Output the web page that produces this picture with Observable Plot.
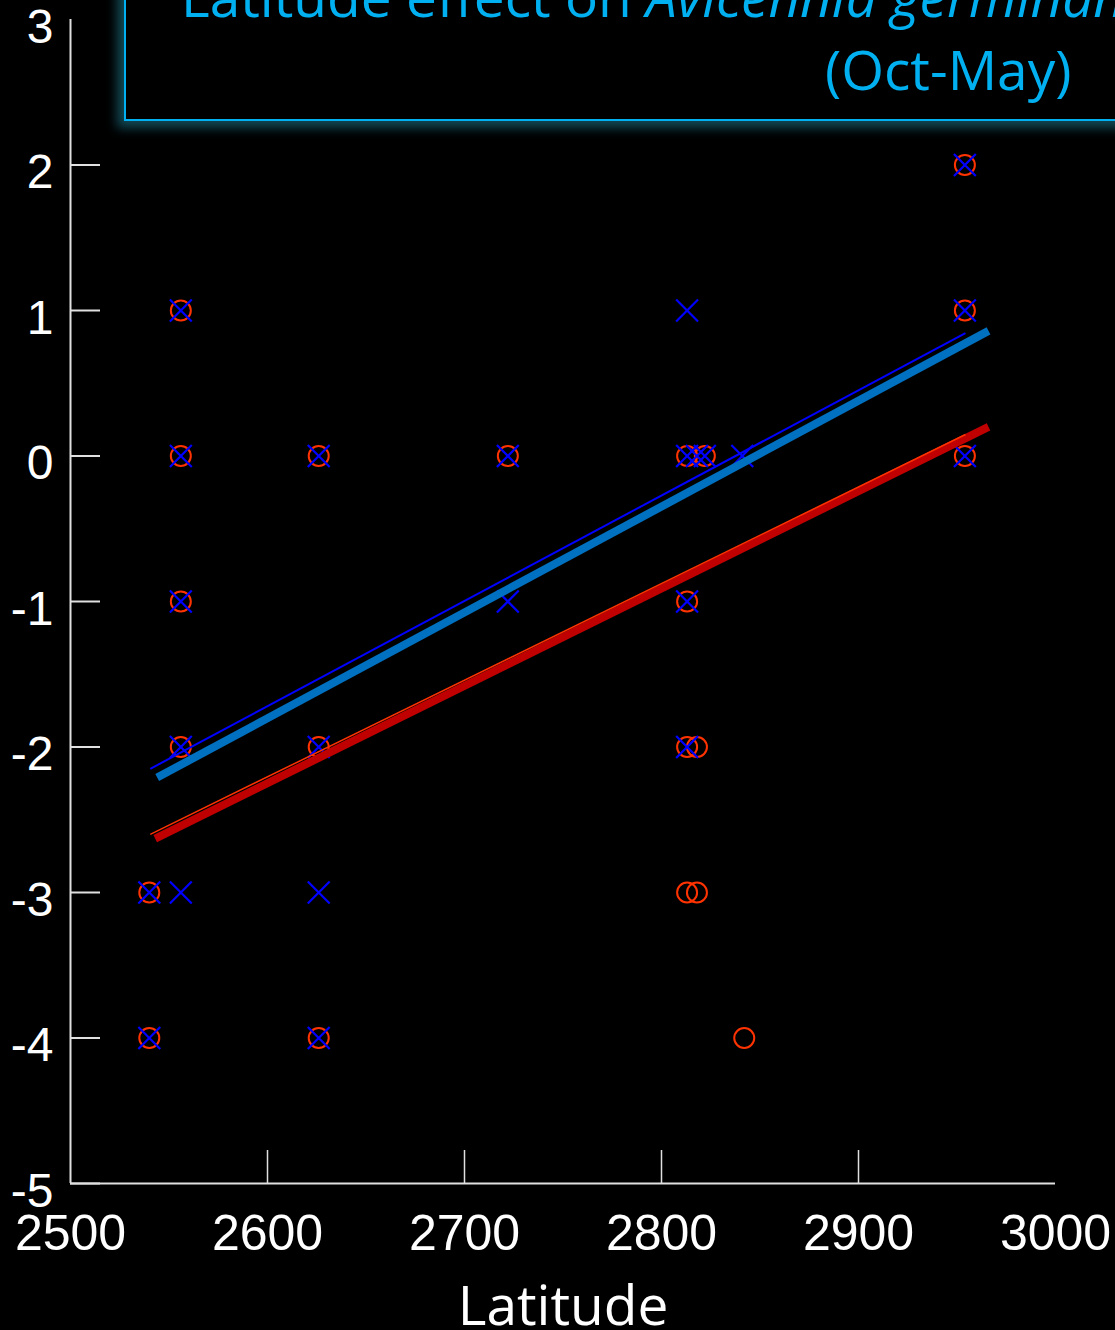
<!DOCTYPE html>
<html>
<head>
<meta charset="utf-8">
<script src="https://cdn.jsdelivr.net/npm/d3@7"></script>
<script src="https://cdn.jsdelivr.net/npm/@observablehq/plot@0.6"></script>
<style>
  html, body { margin: 0; padding: 0; background: #000; }
  #wrap { position: relative; width: 1115px; height: 1330px; overflow: hidden; background: #000; }
  #chart { position: absolute; left: 0; top: 0; }
  #titlebox {
    position: absolute; left: 124px; top: -20px; width: 1100px; height: 141px;
    box-sizing: border-box; border: 2px solid #00B0F0;
    box-shadow: -4px 4px 10px 3px rgba(30,120,140,0.6);
  }
  .tl { position: absolute; font-family: "Open Sans", sans-serif; font-size: 55px; line-height: 55px;
        color: #00B0F0; white-space: nowrap; }
</style>
</head>
<body>
<div id="wrap">
  <div id="chart"></div>
  <div id="titlebox"></div>
  <div class="tl" style="left:181px; top:-32px;">Latitude effect on <i>Avicennia germinans</i></div>
  <div class="tl" style="left:825px; top:41px;">(Oct-May)</div>
</div>
<script>
// Tick values
const xTickLabels = [2500, 2600, 2700, 2800, 2900, 3000];
const xTickMarks = [2600, 2700, 2800, 2900];
const yTickLabels = [3, 2, 1, 0, -1, -2, -3, -4, -5];
const yTickMarks = [2, 1, 0, -1, -2, -3, -4, -5];

// Series 1 (red circles)
const circleLat = [2540, 2540, 2556, 2556, 2556, 2556, 2626, 2626, 2626, 2722,
                   2813, 2813, 2813, 2813, 2818, 2818, 2822, 2842, 2954, 2954, 2954];
const circleVal = [-3, -4, 1, 0, -1, -2, 0, -2, -4, 0,
                   0, -1, -2, -3, -2, -3, 0, -4, 2, 1, 0];

// Series 2 (blue crosses)
const crossLat = [2540, 2540, 2556, 2556, 2556, 2556, 2556, 2626, 2626, 2626, 2626,
                  2722, 2722, 2813, 2813, 2813, 2813, 2818, 2822, 2841, 2954, 2954, 2954];
const crossVal = [-3, -4, 1, 0, -1, -2, -3, 0, -2, -3, -4,
                  0, -1, 1, 0, -1, -2, 0, 0, 0, 2, 1, 0];

// Trend lines (endpoints)
const trendBlueLat = [2544, 2966];
const trendBlueVal = [-2.21, 0.86];
const trendRedLat = [2543, 2966];
const trendRedVal = [-2.63, 0.20];
const fitBlueLat = [2540.5, 2954.3];
const fitBlueVal = [-2.15, 0.845];
const fitRedLat = [2540.5, 2954.3];
const fitRedVal = [-2.60, 0.148];

const circles = circleLat.map((x, i) => ({x, y: circleVal[i]}));
const crosses = crossLat.map((x, i) => ({x, y: crossVal[i]}));
const mk = (xs, ys) => xs.map((x, i) => ({x, y: ys[i]}));

const W = 1115, H = 1330, ML = 70, MR = 60, MT = 19, MB = 147;
const frameW = W - ML - MR, frameH = H - MT - MB;

const chart = Plot.plot({
  width: W, height: H,
  marginLeft: ML, marginRight: MR, marginTop: MT, marginBottom: MB,
  style: {background: "#000", color: "#fff", fontFamily: "'Liberation Sans', Arial, sans-serif", fontSize: "48px", overflow: "visible"},
  x: {domain: [2500, 3000]},
  y: {domain: [-5, 3]},
  marks: [
    Plot.axisX({ticks: xTickLabels, tickSize: 0, tickPadding: 31, label: null, tickFormat: d => String(d), fill: "#fff", fontSize: 50}),
    Plot.axisY({ticks: yTickLabels, tickSize: 0, tickPadding: 17, dy: 8, label: null, tickFormat: d => String(d), fill: "#fff"}),
    Plot.ruleX([2500], {stroke: "#e0e0e0", strokeWidth: 2}),
    Plot.ruleY([-5], {stroke: "#e0e0e0", strokeWidth: 2}),
    Plot.tickY(yTickMarks, {y: d => d, insetRight: frameW - 30, stroke: "#e0e0e0", strokeWidth: 2}),
    Plot.tickX(xTickMarks, {x: d => d, insetTop: frameH - 33, stroke: "#e0e0e0", strokeWidth: 1.5}),
    Plot.dot(circles, {x: "x", y: "y", r: 10, stroke: "#FF3300", strokeWidth: 2, fill: "none"}),
    Plot.dot(crosses, {x: "x", y: "y", r: 10, symbol: "times", stroke: "#0000FF", strokeWidth: 2.2, fill: "none"}),
    Plot.line(mk(trendRedLat, trendRedVal), {x: "x", y: "y", stroke: "#C00000", strokeWidth: 8, strokeLinecap: "butt"}),
    Plot.line(mk(fitRedLat, fitRedVal), {x: "x", y: "y", stroke: "#FF3300", strokeWidth: 1.5, strokeLinecap: "butt"}),
    Plot.line(mk(trendBlueLat, trendBlueVal), {x: "x", y: "y", stroke: "#0070C0", strokeWidth: 8, strokeLinecap: "butt"}),
    Plot.line(mk(fitBlueLat, fitBlueVal), {x: "x", y: "y", stroke: "#0000FF", strokeWidth: 2, strokeLinecap: "butt"}),
    Plot.text(["Latitude"], {frameAnchor: "bottom", lineAnchor: "top", dy: 102, text: d => d, fontSize: 55, fontFamily: "'Open Sans', sans-serif", fill: "#fff"})
  ]
});
document.getElementById("chart").appendChild(chart);
</script>
</body>
</html>
